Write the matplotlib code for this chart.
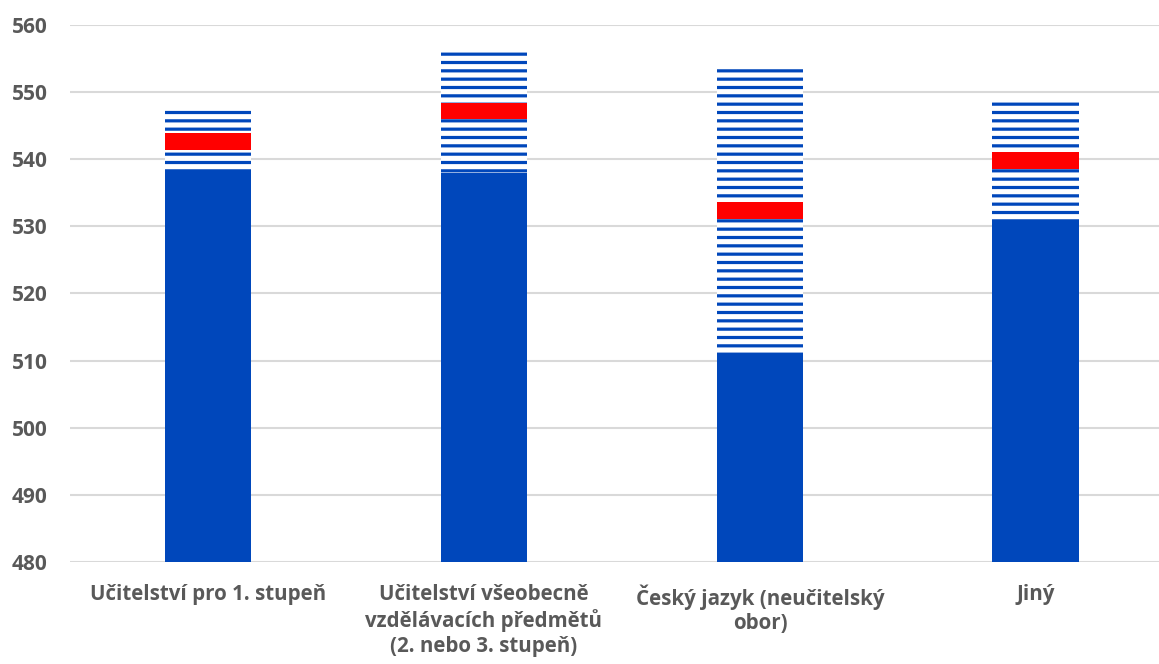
import numpy as np
import matplotlib.pyplot as plt

# Data
categories = ["Učitelství pro 1. stupeň",
              "Učitelství všeobecně\nvzdělávacích předmětů\n(2. nebo 3. stupeň)",
              "Český jazyk (neučitelský\nobor)",
              "Jiný"]
lower = [538.1, 538.0, 510.9, 530.8]
upper = [547.3, 556.3, 553.6, 548.9]
mean = [542.6, 547.2, 532.4, 539.8]

blue = '#0047BB'
grey = '#595959'
plt.rcParams['hatch.linewidth'] = 2.3
plt.rcParams['font.family'] = ['Open Sans', 'DejaVu Sans']

fig = plt.figure(figsize=(11.59, 6.64), dpi=100)
ax = fig.add_axes([0.0604, 0.1536, 0.9525, 0.8088])

x = np.arange(len(categories))
w = 0.315
base = 480
lower = np.array(lower)
upper = np.array(upper)
mean = np.array(mean)

ax.bar(x, lower - base, bottom=base, width=w, color=blue, zorder=3)
ax.bar(x, upper - lower, bottom=lower, width=w, facecolor='white',
       edgecolor=blue, hatch='--', linewidth=0, zorder=3)
mh = 2.5
ax.bar(x, mh, bottom=mean - mh / 2, width=w, color='#FF0000', zorder=4)

ax.set_ylim(480, 560)
ax.set_xlim(-0.5, len(categories) - 0.5)
ax.set_yticks(np.arange(480, 561, 10))
ax.grid(axis='y', color='#D9D9D9', linewidth=1.5, zorder=0)
for s in ax.spines.values():
    s.set_visible(False)
ax.tick_params(axis='both', length=0, colors=grey)
ax.tick_params(axis='y', pad=16, labelsize=15)
ax.tick_params(axis='x', pad=16, labelsize=14.8)
ax.set_xticks(x)
ax.set_xticklabels(categories, linespacing=1.22)
for lab in ax.get_xticklabels() + ax.get_yticklabels():
    lab.set_fontweight('bold')

fig.savefig('out.png', dpi=100)
